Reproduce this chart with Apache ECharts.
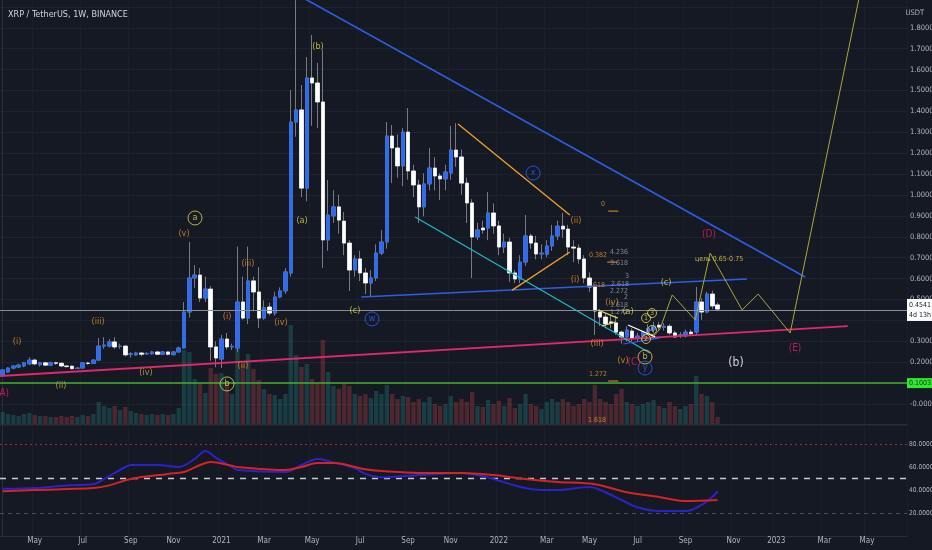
<!DOCTYPE html>
<html><head><meta charset="utf-8">
<script src="https://cdn.jsdelivr.net/npm/echarts@6/dist/echarts.min.js"></script>
<style>html,body{margin:0;padding:0;background:#151924;}#c{width:932px;height:550px;}</style>
</head><body><div id="c"></div>
<script>
// ---------- data ----------
const startWeek = '2020-03-23';
const weekCount = 170;
const monthNames = ['Jan','Feb','Mar','Apr','May','Jun','Jul','Aug','Sep','Oct','Nov','Dec'];

const opens = [0.139,0.153,0.172,0.177,0.182,0.192,0.210,0.188,0.197,0.186,0.197,0.195,0.182,0.181,0.170,0.172,0.196,0.194,0.210,0.277,
0.277,0.297,0.275,0.277,0.238,0.235,0.244,0.240,0.240,0.249,0.238,0.249,0.236,0.249,0.268,0.440,0.603,0.617,0.507,0.550,
0.273,0.215,0.311,0.273,0.268,0.488,0.411,0.589,0.536,0.411,0.464,0.435,0.512,0.541,0.627,1.349,1.407,1.033,1.560,1.536,
1.445,0.785,0.900,0.943,0.875,0.770,0.641,0.694,0.627,0.579,0.603,0.722,0.775,1.282,1.225,1.139,1.301,1.115,1.048,0.943,
1.053,1.129,1.091,1.077,1.105,1.215,1.182,1.057,0.962,0.799,0.842,0.842,0.914,0.852,0.751,0.775,0.627,0.598,0.679,0.804,
0.770,0.718,0.717,0.756,0.804,0.851,0.837,0.751,0.746,0.694,0.603,0.560,0.440,0.416,0.393,0.388,0.344,0.321,0.349,0.316,
0.325,0.344,0.356,0.377,0.367,0.372,0.340,0.328,0.326,0.344,0.344,0.488,0.440,0.526,0.474];
const closes = [0.163,0.172,0.182,0.186,0.197,0.210,0.192,0.197,0.186,0.197,0.195,0.182,0.179,0.169,0.172,0.197,0.194,0.210,0.277,0.282,
0.297,0.273,0.277,0.235,0.240,0.244,0.238,0.242,0.249,0.238,0.249,0.238,0.249,0.268,0.440,0.603,0.617,0.507,0.550,0.273,
0.220,0.311,0.273,0.276,0.488,0.411,0.589,0.536,0.411,0.460,0.435,0.512,0.541,0.632,1.349,1.407,1.033,1.560,1.536,1.445,
0.785,0.904,0.943,0.880,0.770,0.641,0.694,0.627,0.579,0.603,0.722,0.775,1.282,1.225,1.139,1.301,1.115,1.048,0.943,1.053,
1.129,1.091,1.077,1.110,1.215,1.182,1.057,0.962,0.799,0.833,0.833,0.914,0.852,0.751,0.775,0.627,0.598,0.679,0.804,0.770,
0.718,0.722,0.756,0.804,0.851,0.837,0.751,0.746,0.694,0.603,0.560,0.445,0.416,0.383,0.388,0.344,0.321,0.354,0.316,0.325,
0.344,0.362,0.373,0.368,0.372,0.340,0.321,0.331,0.344,0.336,0.488,0.440,0.526,0.469,0.4541];
const lows = [0.135,0.150,0.166,0.172,0.176,0.186,0.186,0.179,0.182,0.182,0.188,0.179,0.174,0.166,0.166,0.170,0.188,0.191,0.207,0.264,
0.270,0.264,0.264,0.228,0.222,0.230,0.228,0.235,0.236,0.235,0.236,0.232,0.232,0.246,0.264,0.413,0.556,0.488,0.488,0.207,
0.176,0.172,0.260,0.258,0.248,0.403,0.382,0.444,0.363,0.403,0.423,0.423,0.506,0.527,0.609,1.279,0.990,0.970,1.331,1.321,
0.651,0.733,0.867,0.815,0.712,0.541,0.609,0.588,0.526,0.516,0.588,0.712,0.743,1.057,1.083,1.042,1.073,0.990,0.866,0.898,
1.022,1.022,0.976,1.022,1.073,1.135,1.001,0.866,0.603,0.784,0.815,0.784,0.815,0.712,0.722,0.584,0.578,0.578,0.661,0.743,
0.692,0.692,0.702,0.733,0.784,0.795,0.712,0.679,0.671,0.578,0.537,0.330,0.373,0.362,0.362,0.331,0.289,0.300,0.300,0.300,
0.310,0.331,0.341,0.349,0.351,0.331,0.316,0.316,0.318,0.326,0.331,0.403,0.434,0.454,0.444];
const highs = [0.166,0.176,0.186,0.193,0.202,0.224,0.217,0.202,0.202,0.202,0.202,0.199,0.186,0.184,0.176,0.200,0.202,0.215,0.316,0.320,
0.310,0.320,0.289,0.282,0.248,0.250,0.248,0.248,0.254,0.254,0.254,0.252,0.254,0.275,0.488,0.775,0.665,0.650,0.609,0.565,
0.300,0.331,0.340,0.289,0.753,0.609,0.753,0.609,0.655,0.496,0.485,0.537,0.558,0.650,1.502,1.960,1.526,1.660,1.766,1.632,
1.694,1.072,1.022,1.001,0.918,0.784,0.712,0.733,0.650,0.640,0.764,0.833,1.349,1.335,1.290,1.320,1.416,1.145,1.073,1.104,
1.225,1.181,1.104,1.145,1.331,1.344,1.217,1.083,0.980,0.867,0.877,1.014,0.960,0.877,0.815,0.795,0.640,0.712,0.904,0.815,
0.805,0.764,0.784,0.857,0.877,0.914,0.857,0.784,0.764,0.712,0.630,0.568,0.454,0.434,0.423,0.423,0.351,0.372,0.362,0.341,
0.351,0.382,0.393,0.393,0.387,0.382,0.351,0.344,0.356,0.356,0.560,0.506,0.537,0.542,0.485];
const volumes = [120,100,90,80,100,110,90,80,80,70,70,80,70,80,70,90,80,100,220,180,
160,180,140,170,130,110,100,90,100,90,100,90,100,160,740,720,450,400,310,560,
500,510,400,300,810,600,700,550,440,350,300,290,250,300,990,690,570,600,450,400,
840,520,380,350,400,380,300,280,300,260,330,300,390,300,250,280,270,220,250,220,
270,200,180,200,280,220,250,220,320,180,170,240,200,230,180,260,160,200,300,200,
180,150,220,250,220,250,220,180,200,250,220,390,250,220,200,300,350,220,200,180,
200,220,240,180,160,220,180,150,180,200,480,300,280,220,70];

const rsiLine = [[0,41],[6,41.7],[12,44],[17,45],[19,49.6],[23,60],[24,61.7],[29,61.7],[33,60],[36,67],[38,74],[40,68],[43,60],[44,57.4],
[53,55.7],[56,61.7],[59,67],[62,64],[66,59],[68,54],[71,51],[78,53],[86,54.8],[89,53],[92,49.6],[97,42.6],[101,40],[104,40],[110,42.6],
[112,40],[116,31.3],[119,25],[123,21.7],[128,21.7],[131,27],[133,34],[134,39]];
const rsiMa = [[0,39],[6,40],[17,41.7],[20,44],[24,49.6],[31,54],[34,55.7],[37,61.7],[39,64.3],[43,61],[44,60],[53,57.4],[56,60],[59,63.5],
[62,63.5],[68,58],[71,56.5],[78,54.8],[86,54.8],[92,53],[98,49.6],[104,47],[111,45],[117,38],[123,34],[128,30.4],[134,31.3]];
const rsiLevels = [80, 50, 20];
const lastPrice = 0.4541;
const lastPriceTimer = '4d 13h';
const supportLevel = 0.1003;

// drawings (week index, price)
const resistanceLine = [[55,1.962],[150.4,0.608]];
const baseLine = [[-0.5,0.134],[158.4,0.373]];
const wLine = [[67.2,0.512],[139.5,0.598]];
const cyanLine = [[77.3,0.895],[121.3,0.244]];
const orangeDown = [[85.35,1.340],[106.3,0.904]];
const orangeUp = [[95.5,0.545],[106.3,0.727]];
const projection = [[121.7,0.316],[123.2,0.359],[125.5,0.522],[129.8,0.402],[132.6,0.722],[138.6,0.450],[141.6,0.526],[147.6,0.340],[161.6,2.077]];
const yellowSmall1 = [[111.6,0.450],[115.3,0.411]];
const yellowSmall2 = [[112.3,0.373],[114.8,0.392]];
const whiteSmall = [[117.2,0.378],[122.3,0.321]];
const blueSmall = [[116.3,0.287],[123.2,0.316]];
const fibLine0 = [[113.5,0.923],[115.4,0.923]];
const fibLine382 = [[113.3,0.679],[115.2,0.679]];
const fibLine1272 = [[113.5,0.110],[115.4,0.110]];

const orangeWaves = [[2.69,0.297,'(i)'],[17.87,0.392,'(iii)'],[33.99,0.813,'(v)'],[42.05,0.416,'(i)'],[45.05,0.182,'(ii)'],[45.98,0.670,'(iii)'],
[52.17,0.388,'(iv)'],[107.46,0.876,'(ii)'],[107.28,0.593,'(i)'],[111.40,0.287,'(iii)'],[114.21,0.483,'(iv)'],[116.27,0.206,'(v)']];
const goldWaves = [[10.93,0.086,'(ii)'],[26.87,0.148,'(iv)']];
const yellowWaves = [[56.11,0.876,'(a)'],[59.11,1.708,'(b)'],[66.04,0.445,'(c)'],[124.34,0.579,'(c)'],[117.21,0.440,'(a)']];
const pinkWaves = [[0.3,0.053,'A)'],[132.39,0.813,'(D)'],[148.51,0.268,'(E)'],[118.34,0.201,'(C)']];
const whiteWaves = [[137.45,0.196,'(b)']];
const yellowCircled = [[36.05,0.890,'a'],[42.05,0.096,'b'],[120.40,0.225,'b']];
const blueCircled = [[69.23,0.407,'w'],[99.41,1.105,'x'],[120.40,0.172,'y']];
const smallCircled = [[120.59,0.411,'1'],[121.71,0.435,'3'],[120.59,0.311,'2'],[121.71,0.354,'4']];
const fibOrange = [[112.53,0.957,'0'],[111.59,0.713,'0.382'],[111.59,0.569,'.618'],[111.59,0.144,'1.272'],[111.40,-0.077,'1.618']];
const fibGray = [[115.52,0.727,'4.236'],[115.52,0.675,'3.618'],[117.02,0.612,'3'],[115.71,0.574,'2.618'],[115.52,0.541,'2.272'],
[116.84,0.512,'2'],[115.52,0.474,'1.618'],[115.52,0.440,'1.272']];
const targetNote = [[134.27,0.694,'цель 0.65-0.75']];

// ---------- build ----------
const weeks = [];
(function(){ const d0 = Date.parse(startWeek + 'T00:00:00Z');
  for (let k = 0; k < weekCount; k++) weeks.push(new Date(d0 + k*7*86400000).toISOString().slice(0,10)); })();
function wkDate(i){ return new Date(weeks[i] + 'T00:00:00Z'); }
function isLabelWeek(i){ const d = wkDate(i); return d.getUTCDate() <= 7 && d.getUTCMonth() % 2 === 0; }
function timeLabel(v){ const d = new Date(v + 'T00:00:00Z'); return d.getUTCMonth() === 0 ? String(d.getUTCFullYear()) : monthNames[d.getUTCMonth()]; }

const FONT = "'Liberation Sans Narrow','DejaVu Sans Condensed','Liberation Sans',sans-serif";
const C = {orange:'#e5942a', gold:'#c8b43a', yellow:'#e6d84e', pink:'#e91e63', blue:'#2962ff', white:'#ffffff', gray:'#b2b5be'};

const fullOHLC = opens.map((o,i)=>[o, closes[i], lows[i], highs[i]]);
const bodyOHLC = opens.map((o,i)=>[o, closes[i], Math.min(o,closes[i]), Math.max(o,closes[i])]);
const volData = volumes.map((v,i)=>({value:v, itemStyle:{color: closes[i] >= opens[i] ? 'rgba(38,166,154,0.26)' : 'rgba(239,83,80,0.26)'}}));

function lineSeries(data, color, width, type, z){
  return {type:'line', xAxisIndex:1, yAxisIndex:0, data:data, symbol:'none', silent:true, z:z||5,
    lineStyle:{color:color, width:width, type:type||'solid'}, animation:false};
}
function textSeries(data, color, size, weight){
  return {type:'scatter', xAxisIndex:1, yAxisIndex:0, symbolSize:0, silent:true, z:8, animation:false,
    data:data.map(d=>({value:[d[0],d[1]], name:d[2]})),
    label:{show:true, position:'inside', formatter:p=>p.name, color:color, fontSize:size, fontFamily:FONT, fontWeight:weight||'normal'}};
}
function circleSeries(data, color, symSize, size){
  return {type:'scatter', xAxisIndex:1, yAxisIndex:0, symbol:'circle', symbolSize:symSize, silent:true, z:8, animation:false,
    itemStyle:{color:'rgba(0,0,0,0)', borderColor:color, borderWidth:1},
    data:data.map(d=>({value:[d[0],d[1]], name:d[2]})),
    label:{show:true, position:'inside', formatter:p=>p.name, color:color, fontSize:size, fontFamily:FONT}};
}

const chart = echarts.init(document.getElementById('c'), null, {renderer:'canvas'});
const axisText = {color:'#b2b5be', fontSize:7.5, fontFamily:FONT};
const rsiAxisText = {color:'#b2b5be', fontSize:6.6, fontFamily:FONT};
const vSplit = {show:true, interval:(i)=>isLabelWeek(i), lineStyle:{color:'#1b1f2a', width:1}};

chart.setOption({
  backgroundColor:'#151924',
  animation:false,
  title:[
    {text:'XRP / TetherUS, 1W, BINANCE', left:3, top:5, textStyle:{color:'#d1d4dc', fontSize:9, fontWeight:'normal', fontFamily:FONT}},
    {text:'USDT', right:3, top:4, textStyle:{color:'#b2b5be', fontSize:7.5, fontWeight:'normal', fontFamily:FONT}}
  ],
  grid:[
    {left:0, right:25, top:-14, height:438.9, containLabel:false, outerBoundsMode:'none'},
    {left:0, right:25, top:324, height:100, containLabel:false, outerBoundsMode:'none'},
    {left:0, right:25, top:421, height:115, containLabel:false, outerBoundsMode:'none'}
  ],
  xAxis:[
    {type:'category', gridIndex:0, data:weeks, boundaryGap:true, axisLabel:{show:false}, axisTick:{show:false}, axisLine:{show:false}, splitLine:vSplit},
    {type:'value', gridIndex:0, min:-0.5, max:weekCount-0.5, show:false},
    {type:'category', gridIndex:1, data:weeks, boundaryGap:true, axisLabel:{show:false}, axisTick:{show:false}, axisLine:{show:true, lineStyle:{color:'#2a2e39'}}, splitLine:{show:false}},
    {type:'category', gridIndex:2, data:weeks, boundaryGap:true, axisTick:{show:false},
      axisLine:{show:true, lineStyle:{color:'#2a2e39'}},
      axisLabel:Object.assign({interval:(i)=>isLabelWeek(i), formatter:(v)=>timeLabel(v), margin:1}, {color:'#b2b5be', fontSize:8, fontFamily:FONT}),
      splitLine:vSplit},
    {type:'value', gridIndex:2, min:-0.5, max:weekCount-0.5, show:false}
  ],
  yAxis:[
    {type:'value', gridIndex:0, position:'right', min:-0.1, max:2.0, interval:0.1,
      axisLine:{show:true, lineStyle:{color:'#2a2e39'}}, axisTick:{show:false},
      splitLine:{show:true, lineStyle:{color:'#1f2330'}},
      axisLabel:Object.assign({margin:3, formatter:(v)=>{
        if (v > 1.85 || v < -0.05) return '';
        if (Math.abs(v-0.4) < 0.01 || Math.abs(v-0.1) < 0.01) return '';
        if (Math.abs(v) < 1e-9) return '-0.0000';
        return v.toFixed(4);}}, axisText)},
    {type:'value', gridIndex:1, min:0, max:1000, show:false},
    {type:'value', gridIndex:2, position:'right', min:0, max:100, interval:20,
      axisLine:{show:true, lineStyle:{color:'#2a2e39'}}, axisTick:{show:false}, splitLine:{show:false},
      axisLabel:Object.assign({margin:2, formatter:(v)=> (v>0 && v<100) ? v.toFixed(4) : ''}, rsiAxisText)}
  ],
  series:[
    {type:'bar', xAxisIndex:2, yAxisIndex:1, data:volData, barWidth:'82%', silent:true, z:1},
    {type:'candlestick', xAxisIndex:0, yAxisIndex:0, data:fullOHLC, barWidth:4, silent:true, z:3,
      itemStyle:{color:'#787b86', color0:'#787b86', borderColor:'#787b86', borderColor0:'#787b86', borderWidth:1}},
    {type:'candlestick', xAxisIndex:0, yAxisIndex:0, data:bodyOHLC, barWidth:4, silent:true, z:4,
      itemStyle:{color:'#2e6bf0', color0:'#ffffff', borderColor:'#2e6bf0', borderColor0:'#ffffff', borderWidth:0.6},
      markLine:{symbol:['none','none'], silent:true, animation:false,
        data:[
          {yAxis:supportLevel, lineStyle:{color:'#43b02a', width:1.6, type:'solid'},
            label:{show:true, position:'end', distance:0, formatter:supportLevel.toFixed(4), backgroundColor:'#33e633', color:'#0b3a0b',
              fontSize:7, fontFamily:FONT, padding:[2,2,1,2]}},
          {yAxis:lastPrice, lineStyle:{color:'#8a8d96', width:1, type:'solid'},
            label:{show:true, position:'end', distance:0, formatter:lastPrice.toFixed(4)+'\n'+lastPriceTimer, backgroundColor:'#ffffff', color:'#131722',
              fontSize:7, lineHeight:10, fontFamily:FONT, padding:[1,2,1,2]}}
        ]}},
    lineSeries(resistanceLine, '#2f5fe0', 1.6),
    lineSeries(baseLine, '#e0286a', 1.8),
    lineSeries(wLine, '#2f5fe0', 1.6),
    lineSeries(cyanLine, '#26b5c8', 1.3),
    lineSeries(orangeDown, '#f0a030', 1.3),
    lineSeries(orangeUp, '#f0a030', 1.3),
    lineSeries(projection, '#a9a642', 1),
    lineSeries(yellowSmall1, '#e6d84e', 1.2),
    lineSeries(yellowSmall2, '#e6d84e', 1.2),
    lineSeries(whiteSmall, '#ffffff', 1.2),
    lineSeries(blueSmall, '#2f5fe0', 1.2),
    lineSeries(fibLine0, '#e5942a', 1),
    lineSeries(fibLine382, '#e5942a', 1),
    lineSeries(fibLine1272, '#e5942a', 1),
    textSeries(orangeWaves, C.orange, 9),
    textSeries(goldWaves, C.gold, 9),
    textSeries(yellowWaves, C.yellow, 9),
    textSeries(pinkWaves, C.pink, 10),
    textSeries(whiteWaves, C.white, 12),
    textSeries(fibOrange, C.orange, 7),
    textSeries(fibGray, '#9ea1aa', 7),
    textSeries(targetNote, C.yellow, 7),
    circleSeries(yellowCircled, C.yellow, 14, 9),
    circleSeries(blueCircled, C.blue, 14, 9),
    circleSeries(smallCircled, C.yellow, 9, 7),
    {type:'line', xAxisIndex:4, yAxisIndex:2, data:rsiLine, symbol:'none', smooth:0.35, silent:true, z:5,
      lineStyle:{color:'#2a24c8', width:2},
      markLine:{symbol:['none','none'], silent:true, animation:false, label:{show:false},
        data:[
          {yAxis:rsiLevels[0], lineStyle:{color:'#a8283a', width:1, type:[2,3]}},
          {yAxis:rsiLevels[1], lineStyle:{color:'#c9ccd3', width:1.3, type:[6,6]}},
          {yAxis:rsiLevels[2], lineStyle:{color:'#355c3f', width:1, type:[4,4]}}
        ]}},
    {type:'line', xAxisIndex:4, yAxisIndex:2, data:rsiMa, symbol:'none', smooth:0.35, silent:true, z:6,
      lineStyle:{color:'#d42424', width:2}}
  ]
});
</script>
</body></html>
